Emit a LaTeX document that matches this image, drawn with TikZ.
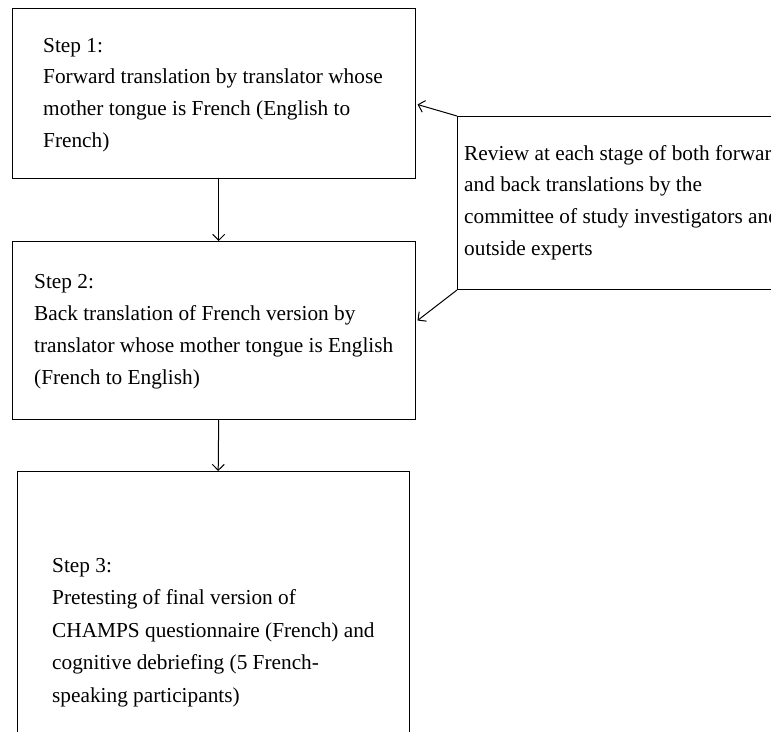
\documentclass[tikz,border=0pt]{standalone}
\usepackage{fontspec}
\setmainfont{Liberation Serif}
\usetikzlibrary{arrows.meta}
\begin{document}
\begin{tikzpicture}[x=1pt,y=-1pt,
  box/.style={draw=black,line width=1pt,rectangle,inner sep=0pt,anchor=north west},
  txt/.style={inner sep=0pt,anchor=base west,font=\fontsize{21.3}{25}\selectfont},
  arr/.style={line width=1pt,-{Straight Barb[length=6pt,width=12pt]}}]
\useasboundingbox (0,0) rectangle (771,731);
\clip (0,0) rectangle (771,731);
\node[box,minimum width=403pt,minimum height=170pt] (b1) at (12,8) {};
\node[box,minimum width=403pt,minimum height=178pt] (b2) at (12,241) {};
\node[box,minimum width=392pt,minimum height=300pt] (b3) at (17,471) {};
\node[box,minimum width=350pt,minimum height=173pt] (rv) at (457,116) {};
\foreach \t [count=\i from 0] in {Step 1:,Forward translation by translator whose,mother tongue is French (English to,French)}
  \node[txt] (b1t\i) at (43,52+31.7*\i) {\t};
\foreach \t [count=\i from 0] in {Step 2:,Back translation of French version by,translator whose mother tongue is English,(French to English)}
  \node[txt] (b2t\i) at (34,288+32*\i) {\t};
\foreach \t [count=\i from 0] in {Step 3:,Pretesting of final version of,CHAMPS questionnaire (French) and,cognitive debriefing (5 French-,speaking participants)}
  \node[txt] (b3t\i) at (52,572+32.5*\i) {\t};
\foreach \t [count=\i from 0] in {Review at each stage of both forward,and back translations by the,committee of study investigators and,outside experts}
  \node[txt] (rvt\i) at (464,160+31.7*\i) {\t};
\draw[arr] ([xshift=4.7pt]b1.south) -- ([xshift=4.7pt]b2.north);
\draw[arr] ([xshift=4.7pt]b2.south) -- ([xshift=4.7pt]b3.north);
\draw[arr] (rv.north west) -- ([xshift=1.5pt,yshift=-11pt]b1.east);
\draw[arr] (rv.south west) -- ([xshift=1.5pt,yshift=10pt]b2.east);
\end{tikzpicture}
\end{document}
